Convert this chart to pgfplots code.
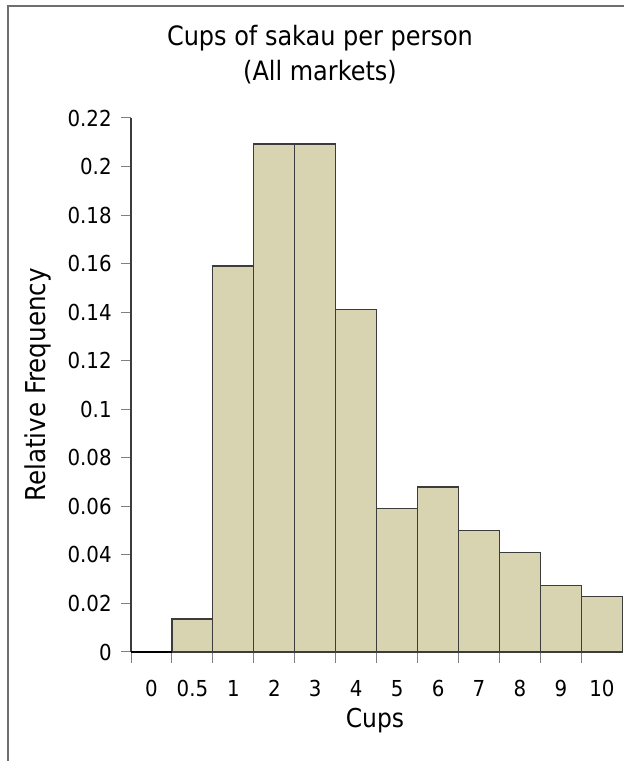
\documentclass[border=0pt]{standalone}
\usepackage{pgfplots}
\pgfplotsset{compat=1.18}
\usepackage{fontspec}
\setmainfont{DejaVu Sans Condensed}
\definecolor{barfill}{RGB}{216,212,178}
\definecolor{frame}{RGB}{110,110,110}
\definecolor{axisc}{RGB}{60,60,60}
\begin{document}
\begin{tikzpicture}
    % picture is 624 x 761 px, 1 px = 0.75pt
    \path[use as bounding box] (0,0) rectangle (468pt,570.75pt);
    \draw[frame, line width=1.5pt] (6pt,0) -- (6pt,566.25pt) -- (468pt,566.25pt);
    \begin{axis}[
        at={(98.25pt,81.75pt)},
        anchor=south west,
        scale only axis,
        width=368.5pt,
        height=400.5pt,
        xmin=0, xmax=12,
        ymin=0, ymax=0.22,
        axis x line=bottom,
        axis y line=left,
        axis line style={axisc, line width=0.9pt, -},
        tick align=outside,
        xtick={0.5,1.5,...,11.5},
        xticklabels={0,0.5,1,2,3,4,5,6,7,8,9,10},
        major x tick style={draw=none},
        minor xtick={0,1,...,11},
        minor tick length=8.25pt,
        minor x tick style={gray, line width=0.75pt},
        ytick={0,0.02,0.04,0.06,0.08,0.1,0.12,0.14,0.16,0.18,0.2,0.22},
        yticklabels={0,0.02,0.04,0.06,0.08,0.1,0.12,0.14,0.16,0.18,0.2,0.22},
        major tick length=7.5pt,
        y tick style={gray, line width=0.75pt},
        tick label style={font=\fontsize{16.5}{18}\selectfont},
        xticklabel style={yshift=-10pt},
        yticklabel style={xshift=-3.5pt},
        clip=false,
    ]
        \addplot[ybar interval, fill=barfill, draw=axisc, line width=0.9pt]
        coordinates {
            (0, 0)
            (1, 0.0136)
            (2, 0.159)
            (3, 0.2093)
            (4, 0.2093)
            (5, 0.141)
            (6, 0.059)
            (7, 0.068)
            (8, 0.050)
            (9, 0.041)
            (10, 0.0273)
            (11, 0.0228)
            (12, 0.0228)
        };
    \end{axis}
    \draw[black, line width=1.5pt] (98.25pt,81.75pt) -- (129pt,81.75pt);
    \node[font=\fontsize{20}{26.25}\selectfont, align=center, anchor=center] at (240pt,529.5pt)
        {Cups of sakau per person\\(All markets)};
    \node[font=\fontsize{20.5}{22}\selectfont, rotate=90] at (28.5pt,282pt) {Relative Frequency};
    \node[font=\fontsize{19.5}{22}\selectfont] at (281.25pt,30.5pt) {Cups};
\end{tikzpicture}
\end{document}
